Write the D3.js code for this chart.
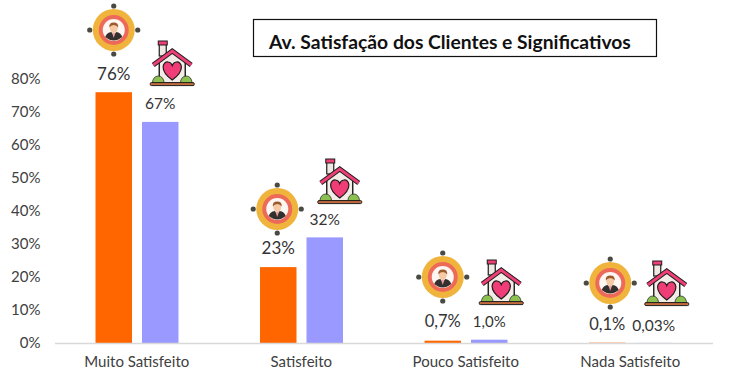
<!DOCTYPE html>
<html><head><meta charset="utf-8">
<script src="https://cdn.jsdelivr.net/npm/d3@7"></script>
<style>html,body{margin:0;background:#fff}svg{display:block}text{font-family:Lato,"Open Sans",sans-serif}</style>
</head><body><div id="c"></div>
<script>
const categories=["Muito Satisfeito","Satisfeito","Pouco Satisfeito","Nada Satisfeito"];
const clientes=[76,23,0.7,0.1];
const significativos=[67,32,1.0,0.03];
const clientesLabels=["76%","23%","0,7%","0,1%"];
const significativosLabels=["67%","32%","1,0%","0,03%"];
const yTicks=[0,10,20,30,40,50,60,70,80];
const titleText="Av. Satisfação dos Clientes e Significativos";
const seriesKeys=["clientes","significativos"];
const seriesColors=["#ff6600","#9999ff"];

// layout offsets (not data): label baseline and icon centres relative to bar centre / baseline
const labelBaseline={clientes:[80,254,327,330],significativos:[109,225,327,331]};
const labelSize={clientes:[17,17,16.5,16.5],significativos:[15.5,15.5,15,15.5]};
const personIcon=[[0,30],[-1,209],[0,277],[3,283]];
const houseIcon=[[12,64],[15,182],[12,283],[13,284]];

const W=733,H=386;
const svg=d3.select("#c").append("svg").attr("width",W).attr("height",H);
const x=d3.scaleBand().domain(categories).range([54.5,712.5]);
const inner=d3.scaleBand().domain(seriesKeys).range([41,124]).paddingInner(0.215).paddingOuter(0);
const y=d3.scaleLinear().domain([0,80]).range([343,79]);

const defs=svg.append("defs");
const p=defs.append("g").attr("id","person");
[[0,-24],[0,24],[-24,0],[24,0]].forEach(d=>p.append("circle").attr("cx",d[0]).attr("cy",d[1]).attr("r",2.6).attr("fill","#4a4a44"));
p.append("circle").attr("r",21).attr("fill","#f0b43c");
p.append("circle").attr("r",15).attr("fill","#ee6a58");
p.append("circle").attr("r",11).attr("fill","#fdf6f2");
p.append("path").attr("d","M-8.5,7 Q-7,2.5 -2.5,2 L0,5 L2.5,2 Q7,2.5 8.5,7 Q4,10.5 0,10.5 Q-4,10.5 -8.5,7Z").attr("fill","#33302f");
p.append("path").attr("d","M-1.8,2.5 L1.8,2.5 L0,8Z").attr("fill","#e9a0a0");
p.append("ellipse").attr("cy",-2).attr("rx",4).attr("ry",4.8).attr("fill","#f5c9a4");
p.append("path").attr("d","M-4.4,-2.5 Q-5,-7.6 0,-7.6 Q5,-7.6 4.4,-2.5 Q3,-5 0,-5 Q-3,-5 -4.4,-2.5Z").attr("fill","#9a5a2c");

const h=defs.append("g").attr("id","house");
h.append("rect").attr("x",-13).attr("y",-22).attr("width",7).attr("height",14).attr("fill","#f0e8e2").attr("stroke","#1e1e1e").attr("stroke-width",1.2);
h.append("rect").attr("x",-14).attr("y",-23).attr("width",9).attr("height",4).attr("fill","#ee3f76").attr("stroke","#1e1e1e").attr("stroke-width",1);
h.append("path").attr("d","M-13,-3 L0,-12 L13,-3 L13,19 L-13,19Z").attr("fill","#f4ece6").attr("stroke","#1e1e1e").attr("stroke-width",1.4);
h.append("path").attr("d","M-19,1 L0,-13 L19,1").attr("fill","none").attr("stroke","#1e1e1e").attr("stroke-width",4.8);
h.append("path").attr("d","M-19,1 L0,-13 L19,1").attr("fill","none").attr("stroke","#ee3f76").attr("stroke-width",2.8);
h.append("path").attr("d","M0,16 C-14,6 -9,-3 -4,-2 Q-1,-1.5 0,1.5 Q1,-1.5 4,-2 C9,-3 14,6 0,16Z").attr("fill","#f03d78").attr("stroke","#1e1e1e").attr("stroke-width",1.2);
h.append("path").attr("d","M-20,19 Q-19,12 -14,12 Q-9,12 -8,19Z M20,19 Q19,12 14,12 Q9,12 8,19Z").attr("fill","#8cc152").attr("stroke","#1e1e1e").attr("stroke-width",.7);
h.append("rect").attr("x",-22).attr("y",18.6).attr("width",44).attr("height",3).attr("rx",1.2).attr("fill","#c26a3c").attr("stroke","#1e1e1e").attr("stroke-width",1);

// axis
const yAxis=d3.axisLeft(y).tickValues(yTicks).tickFormat(d=>d+"%").tickSize(0).tickPadding(14);
const gy=svg.append("g").attr("transform","translate(54.5,0)").call(yAxis);
gy.select(".domain").remove();
gy.selectAll("text").attr("fill","#404040").style("font-size","15px").style("font-family","Lato,sans-serif");

// bars
const series=[clientes,significativos];
seriesKeys.forEach((k,si)=>{
  svg.append("g").selectAll("rect").data(categories).join("rect")
    .attr("x",c=>x(c)+inner(k))
    .attr("width",inner.bandwidth())
    .attr("y",(c,i)=>y(series[si][i]))
    .attr("height",(c,i)=>y(0)-y(series[si][i]))
    .attr("fill",seriesColors[si]);
});

const xAxis=d3.axisBottom(x).tickSize(0).tickPadding(13);
const gx=svg.append("g").attr("transform","translate(0,343)").call(xAxis);
gx.select(".domain").attr("stroke","#d9d9d9").attr("stroke-width",1.3);
gx.selectAll("text").attr("fill","#404040").style("font-size","15px").style("font-family","Lato,sans-serif");

// labels
const lbls=[clientesLabels,significativosLabels];
seriesKeys.forEach((k,si)=>{
  svg.append("g").selectAll("text").data(categories).join("text")
    .attr("x",c=>x(c)+inner(k)+inner.bandwidth()/2)
    .attr("y",(c,i)=>labelBaseline[k][i])
    .attr("text-anchor","middle").attr("fill","#333")
    .style("font-size",(c,i)=>labelSize[k][i]+"px")
    .text((c,i)=>lbls[si][i]);
});

// icons
svg.append("g").selectAll("use").data(categories).join("use").attr("href","#person")
  .attr("transform",(c,i)=>`translate(${x(c)+inner("clientes")+inner.bandwidth()/2+personIcon[i][0]},${personIcon[i][1]})`);
svg.append("g").selectAll("use").data(categories).join("use").attr("href","#house")
  .attr("transform",(c,i)=>`translate(${x(c)+inner("significativos")+inner.bandwidth()/2+houseIcon[i][0]},${houseIcon[i][1]})`);

// title
svg.append("rect").attr("x",253.5).attr("y",19.5).attr("width",403).attr("height",37).attr("fill","#fff").attr("stroke","#111").attr("stroke-width",1.2);
svg.append("text").attr("x",269).attr("y",49).attr("fill","#111").style("font-size","19.3px").style("font-weight",700).text(titleText);
</script></body></html>
